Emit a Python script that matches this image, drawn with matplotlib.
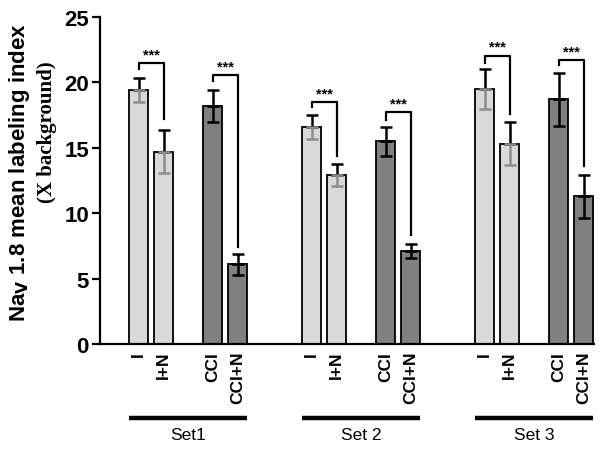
import numpy as np
import matplotlib.pyplot as plt
from matplotlib import transforms

plt.rcParams['font.family'] = ['Liberation Sans', 'DejaVu Sans']

# data
sets = ['Set1', 'Set 2', 'Set 3']
groups = ['I', 'I+N', 'CCI', 'CCI+N']
means = [[19.4, 14.7, 18.2, 6.1],
         [16.6, 12.9, 15.5, 7.1],
         [19.5, 15.3, 18.7, 11.3]]
errs = [[0.9, 1.65, 1.25, 0.8],
        [0.9, 0.85, 1.1, 0.55],
        [1.5, 1.65, 2.0, 1.65]]
# bracket: left leg start, top, right leg end
brackets = [[(21.0, 21.45, 17.2), (20.1, 20.55, 7.4)],
            [(18.1, 18.5, 14.4), (17.15, 17.7, 8.3)],
            [(21.5, 22.05, 17.6), (21.3, 21.7, 13.6)]]

light = '#d9d9d9'
dark = '#808080'

fig = plt.figure(figsize=(6.04, 4.52), dpi=100)
ax = fig.add_axes([100 / 604, 107 / 452, 494 / 604, 327 / 452])

width = 19
tick_pos, tick_lab = [], []
for s in range(3):
    for g in range(4):
        x = 38.5 + s * 173 + (g // 2) * 74 + (g % 2) * 25
        m, e = means[s][g], errs[s][g]
        col = light if g < 2 else dark
        ax.bar(x, m, width=width, color=col, edgecolor='black', linewidth=1.3, zorder=2)
        lowc = '#8c8c8c' if g < 2 else 'black'
        ax.errorbar(x, m, yerr=[[0], [e]], fmt='none', ecolor='black',
                    elinewidth=1.8, capsize=4.5, capthick=1.8, zorder=3)
        ax.errorbar(x, m, yerr=[[e], [0]], fmt='none', ecolor=lowc,
                    elinewidth=1.8, capsize=4.5, capthick=1.8, zorder=3)
        tick_pos.append(x)
        tick_lab.append(groups[g])
    for p in range(2):
        x0 = 38.5 + s * 173 + p * 74
        x1 = x0 + 25
        y0, yt, y1 = brackets[s][p]
        ax.plot([x0, x0, x1, x1], [y0, yt, yt, y1], color='black', lw=1.6,
                zorder=4, solid_joinstyle='round')
        ax.text((x0 + x1) / 2, yt + 0.15, '***', ha='center', va='bottom',
                fontsize=10.5, fontweight='bold')
    # set underline and label
    trans = transforms.blended_transform_factory(ax.transData, ax.transAxes)
    xs = 38.5 + s * 173 - width / 2
    xe = 38.5 + s * 173 + 99 + width / 2
    ax.plot([xs, xe], [-0.226, -0.226], color='black', lw=3.2,
            transform=trans, clip_on=False, solid_capstyle='butt')
    ax.text((xs + xe) / 2, -0.255, sets[s], transform=trans, ha='center',
            va='top', fontsize=12.5)

ax.set_xlim(0, 494)
ax.set_ylim(0, 25)
ax.set_yticks([0, 5, 10, 15, 20, 25])
ax.set_xticks(tick_pos)
ax.set_xticklabels(tick_lab, rotation=90, fontweight='bold', fontsize=12.5, va='top')
ax.tick_params(axis='x', length=0, pad=5)
ax.tick_params(axis='y', length=6, width=1.6, labelsize=16, pad=2)
for lab in ax.get_yticklabels():
    lab.set_fontweight('bold')
for sp in ['top', 'right']:
    ax.spines[sp].set_visible(False)
ax.spines['left'].set_linewidth(1.6)
ax.spines['bottom'].set_linewidth(1.6)

fig.text(20 / 604, 1 - 172 / 452, r'Na$_\mathbf{V}$ 1.8 mean labeling index', rotation=90,
         ha='center', va='center', fontsize=16, fontweight='bold')
fig.text(47 / 604, 1 - 132 / 452, '(X background)', rotation=90, ha='center',
         va='center', fontsize=15, fontweight='bold', family='Liberation Serif')

fig.savefig('out.png', dpi=100)
